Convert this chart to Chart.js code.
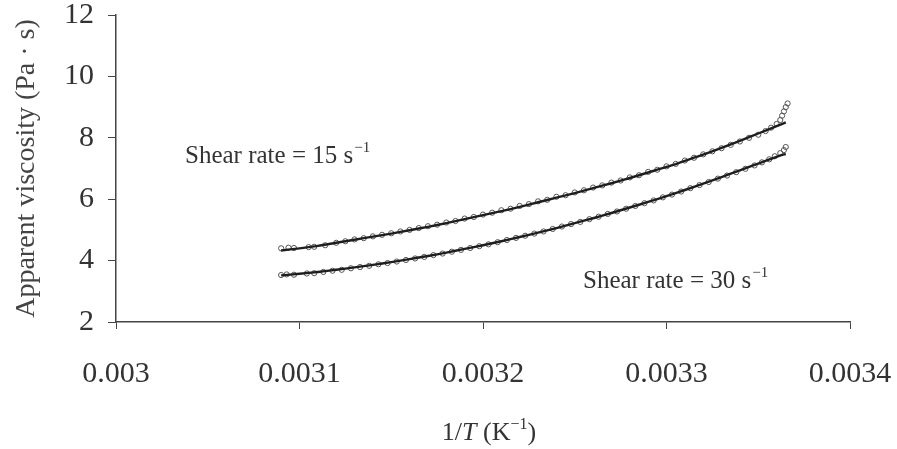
<!DOCTYPE html>
<html>
<head>
<meta charset="utf-8">
<title>Apparent viscosity vs 1/T</title>
<script src="https://cdn.jsdelivr.net/npm/chart.js@4.4.0/dist/chart.umd.min.js"></script>
<style>
    body { margin: 0; background: #ffffff; }
    #chart { display: block; }
</style>
</head>
<body>
<canvas id="chart" width="897" height="449"></canvas>
<script>
// measured points, shear rate 15 s^-1
let invT15 = [0.003090, 0.003094, 0.003097, 0.003105, 0.003108, 0.003114, 0.003120, 0.003125, 0.003130, 0.003135,
    0.003140, 0.003145, 0.003150, 0.003155, 0.003160, 0.003165, 0.003170, 0.003175, 0.003180, 0.003185,
    0.003190, 0.003195, 0.003200, 0.003205, 0.003210, 0.003215, 0.003220, 0.003225, 0.003230, 0.003235,
    0.003240, 0.003245, 0.003250, 0.003255, 0.003260, 0.003265, 0.003270, 0.003275, 0.003280, 0.003285,
    0.003290, 0.003295, 0.003300, 0.003305, 0.003310, 0.003315, 0.003320, 0.003325, 0.003330, 0.003335,
    0.003340, 0.003345, 0.003350, 0.003354, 0.003357, 0.003360, 0.003362, 0.003363, 0.003364, 0.003365, 0.003366];
let visc15 = [4.40, 4.42, 4.41, 4.44, 4.45, 4.50, 4.58, 4.63, 4.69, 4.73,
    4.79, 4.84, 4.89, 4.95, 5.00, 5.06, 5.12, 5.17, 5.24, 5.29,
    5.37, 5.42, 5.50, 5.56, 5.64, 5.69, 5.78, 5.84, 5.93, 5.98,
    6.08, 6.13, 6.22, 6.29, 6.38, 6.45, 6.54, 6.61, 6.71, 6.78,
    6.89, 6.96, 7.07, 7.15, 7.26, 7.35, 7.46, 7.56, 7.66, 7.77,
    7.88, 8.00, 8.10, 8.22, 8.33, 8.45, 8.58, 8.72, 8.86, 9.00, 9.12];

// measured points, shear rate 30 s^-1
let invT30 = [0.003090, 0.003093, 0.003097, 0.003104, 0.003108, 0.003113, 0.003118, 0.003123, 0.003128, 0.003133,
    0.003138, 0.003143, 0.003148, 0.003153, 0.003158, 0.003163, 0.003168, 0.003173, 0.003178, 0.003183,
    0.003188, 0.003193, 0.003198, 0.003203, 0.003208, 0.003213, 0.003218, 0.003223, 0.003228, 0.003233,
    0.003238, 0.003243, 0.003248, 0.003253, 0.003258, 0.003263, 0.003268, 0.003273, 0.003278, 0.003283,
    0.003288, 0.003293, 0.003298, 0.003303, 0.003308, 0.003313, 0.003318, 0.003323, 0.003328, 0.003333,
    0.003338, 0.003343, 0.003348, 0.003352, 0.003356, 0.003359, 0.003362, 0.003364, 0.003365];
let visc30 = [3.53, 3.55, 3.54, 3.58, 3.59, 3.63, 3.67, 3.70, 3.75, 3.79,
    3.83, 3.88, 3.92, 3.97, 4.02, 4.07, 4.12, 4.18, 4.23, 4.29,
    4.35, 4.41, 4.47, 4.53, 4.60, 4.67, 4.74, 4.81, 4.88, 4.95,
    5.03, 5.11, 5.19, 5.26, 5.35, 5.43, 5.52, 5.60, 5.69, 5.78,
    5.87, 5.96, 6.06, 6.15, 6.25, 6.36, 6.46, 6.56, 6.67, 6.77,
    6.88, 6.99, 7.10, 7.20, 7.30, 7.40, 7.50, 7.60, 7.70];

// fitted curves
let fitT = [0.003090, 0.003100, 0.003110, 0.003120, 0.003130, 0.003140, 0.003150, 0.003160, 0.003170, 0.003180,
    0.003190, 0.003200, 0.003210, 0.003220, 0.003230, 0.003240, 0.003250, 0.003260, 0.003270, 0.003280,
    0.003290, 0.003300, 0.003310, 0.003320, 0.003330, 0.003340, 0.003350, 0.003360, 0.003365];
let fit15 = [4.33, 4.40, 4.48, 4.58, 4.68, 4.78, 4.88, 4.99, 5.10, 5.22,
    5.35, 5.48, 5.61, 5.75, 5.90, 6.05, 6.20, 6.36, 6.52, 6.69,
    6.87, 7.05, 7.25, 7.45, 7.67, 7.90, 8.14, 8.38, 8.50];
let fit30 = [3.52, 3.57, 3.63, 3.70, 3.78, 3.86, 3.95, 4.05, 4.15, 4.26,
    4.38, 4.50, 4.63, 4.77, 4.91, 5.06, 5.22, 5.38, 5.55, 5.73,
    5.91, 6.10, 6.30, 6.51, 6.72, 6.94, 7.16, 7.38, 7.48];

let xTicks = [0.003, 0.0031, 0.0032, 0.0033, 0.0034];
let yTicks = [2, 4, 6, 8, 10, 12];

// text labels placed in data units
let notes = [
    { x: 0.0030376, y: 7.18, text: 'Shear rate = 15 s', sup: '\u22121' },
    { x: 0.0032545, y: 3.11, text: 'Shear rate = 30 s', sup: '\u22121' }
];

const serif = "'Liberation Serif', 'Times New Roman', serif";
const ink = '#333333';

function toPoints(xs, ys) {
    let pts = [];
    for (let i = 0; i < xs.length; i++) {
        pts.push({ x: xs[i], y: ys[i] });
    }
    return pts;
}

function markerSet(label, xs, ys) {
    return {
        label: label,
        data: toPoints(xs, ys),
        showLine: false,
        pointStyle: 'circle',
        pointRadius: 2.6,
        borderWidth: 1,
        borderColor: '#555555',
        backgroundColor: 'rgba(255,255,255,0)',
        order: 2
    };
}

function fitSet(label, ys) {
    return {
        label: label,
        data: toPoints(fitT, ys),
        showLine: true,
        borderColor: '#1e1e1e',
        borderWidth: 2.4,
        pointRadius: 0,
        tension: 0.3,
        order: 1
    };
}

// draws "base" followed by a raised superscript
function drawSup(ctx, x, y, base, sup, size) {
    ctx.font = size + 'px ' + serif;
    ctx.fillText(base, x, y);
    let w = ctx.measureText(base).width;
    ctx.font = Math.round(size * 0.6) + 'px ' + serif;
    ctx.fillText(sup, x + w + 1, y - size * 0.42);
}

const notesPlugin = {
    id: 'notes',
    afterDraw: function(chart) {
        let ctx = chart.ctx;
        let xs = chart.scales.x;
        let ys = chart.scales.y;
        ctx.save();
        ctx.fillStyle = ink;
        ctx.textBaseline = 'alphabetic';
        ctx.textAlign = 'left';
        for (let n of notes) {
            drawSup(ctx, xs.getPixelForValue(n.x), ys.getPixelForValue(n.y), n.text, n.sup, 25);
        }

        // x axis title: 1/T (K^-1) with italic T
        let size = 26;
        let parts = [
            { t: '1/', f: size + 'px ' + serif, dy: 0 },
            { t: 'T', f: 'italic ' + size + 'px ' + serif, dy: 0 },
            { t: ' (K', f: size + 'px ' + serif, dy: 0 },
            { t: '\u22121', f: Math.round(size * 0.6) + 'px ' + serif, dy: -size * 0.42 },
            { t: ')', f: size + 'px ' + serif, dy: 0 }
        ];
        let total = 0;
        for (let p of parts) {
            ctx.font = p.f;
            p.w = ctx.measureText(p.t).width;
            total += p.w;
        }
        let cx = (chart.chartArea.left + chart.chartArea.right) / 2 + 6;
        let px = cx - total / 2;
        let py = xs.bottom - 9;
        for (let p of parts) {
            ctx.font = p.f;
            ctx.fillText(p.t, px, py + p.dy);
            px += p.w;
        }
        ctx.restore();
    }
};

let chart = new Chart(document.getElementById('chart').getContext('2d'), {
    type: 'scatter',
    data: {
        datasets: [
            markerSet('15 s-1 data', invT15, visc15),
            markerSet('30 s-1 data', invT30, visc30),
            fitSet('15 s-1 fit', fit15),
            fitSet('30 s-1 fit', fit30)
        ]
    },
    options: {
        responsive: false,
        animation: false,
        layout: { padding: { left: 0, right: 47, top: 15, bottom: 0 } },
        plugins: {
            legend: { display: false },
            tooltip: { enabled: false }
        },
        scales: {
            x: {
                type: 'linear',
                min: 0.003,
                max: 0.0034,
                afterBuildTicks: function(scale) {
                    scale.ticks = xTicks.map(v => ({ value: v }));
                },
                afterFit: function(scale) {
                    scale.height = 127;
                    scale.paddingLeft = 0;
                    scale.paddingRight = 0;
                },
                ticks: {
                    color: ink,
                    padding: 30,
                    maxRotation: 0,
                    font: { family: serif, size: 30, lineHeight: 1 },
                    callback: function(value) {
                        return Number(value.toFixed(4)).toString();
                    }
                },
                grid: { drawOnChartArea: false, drawTicks: true, tickLength: 7, color: '#444444' },
                border: { display: true, color: '#444444', width: 1.5 }
            },
            y: {
                min: 2,
                max: 12,
                afterBuildTicks: function(scale) {
                    scale.ticks = yTicks.map(v => ({ value: v }));
                },
                afterFit: function(scale) {
                    scale.width = 116;
                    scale.paddingTop = 0;
                    scale.paddingBottom = 0;
                },
                ticks: {
                    color: ink,
                    padding: 14,
                    font: { family: serif, size: 30, lineHeight: 1 }
                },
                title: {
                    display: true,
                    text: 'Apparent viscosity (Pa \u00b7 s)',
                    color: '#444444',
                    padding: { top: 10, bottom: 0 },
                    font: { family: serif, size: 28 }
                },
                grid: { drawOnChartArea: false, drawTicks: true, tickLength: 8, color: '#444444' },
                border: { display: true, color: '#444444', width: 1.5 }
            }
        }
    },
    plugins: [notesPlugin]
});
</script>
</body>
</html>
